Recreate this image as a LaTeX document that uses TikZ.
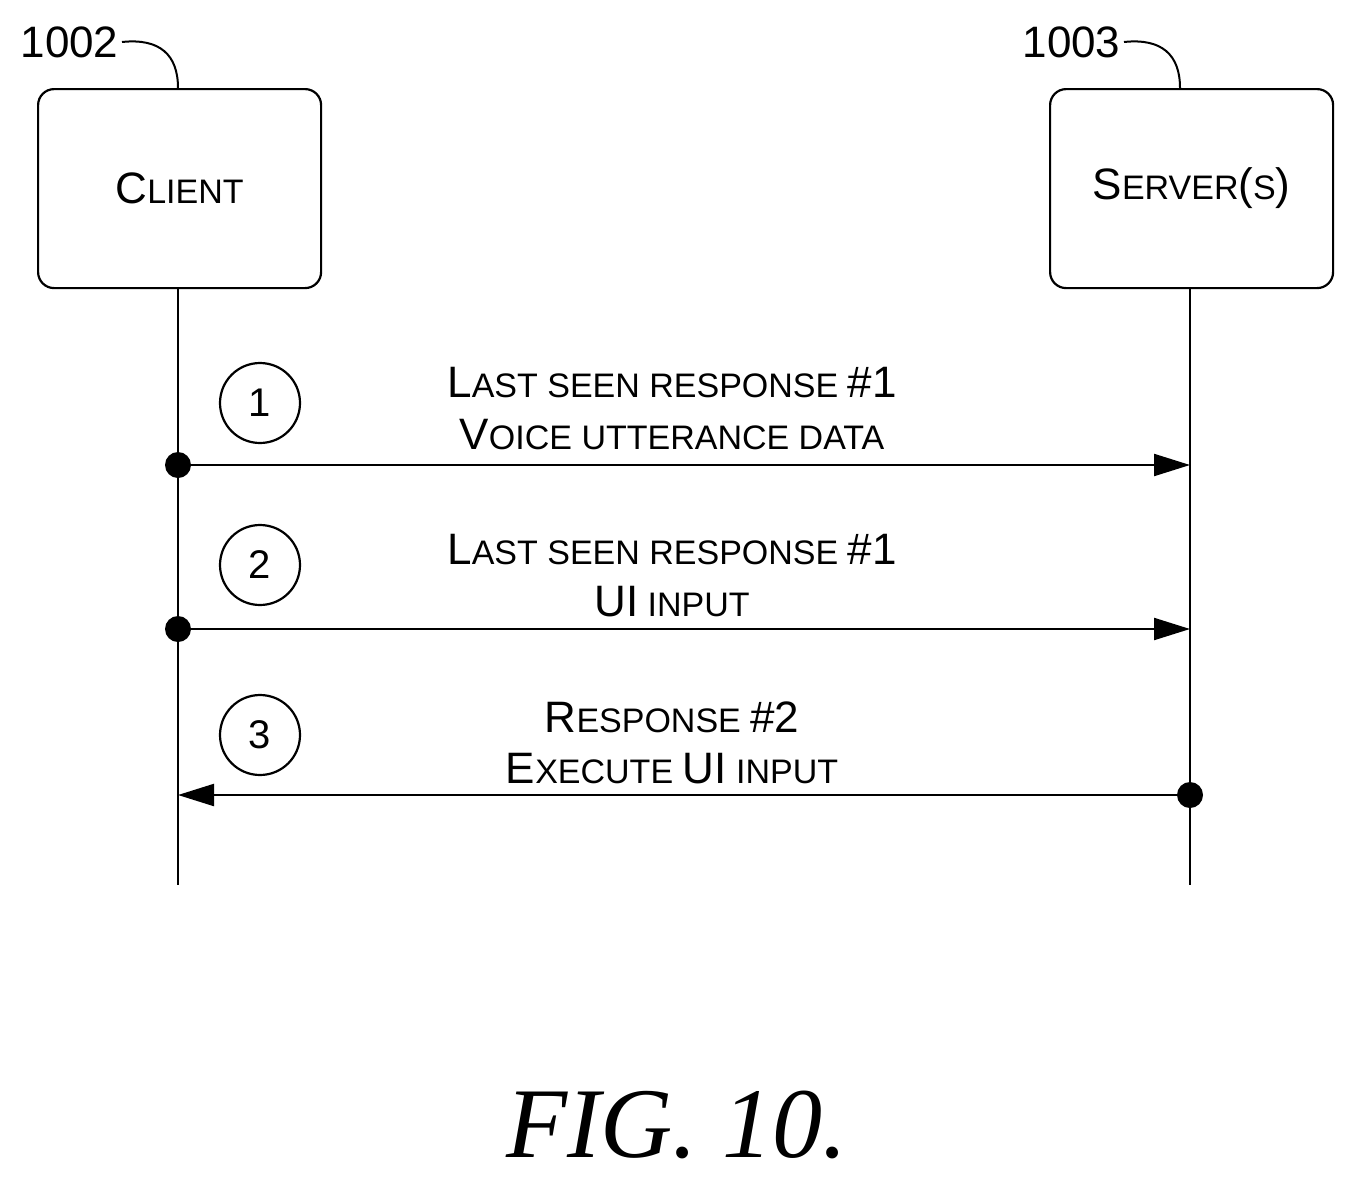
\documentclass[tikz,border=0pt]{standalone}
\usepackage{fontspec}
\setmainfont{Liberation Sans}
\newfontfamily\figfont{Liberation Serif}
\usetikzlibrary{arrows.meta}
\newcommand\Bg[1]{{\fontsize{44}{50}\selectfont #1}}
\newcommand\Sm[1]{{\fontsize{34}{50}\selectfont\MakeUppercase{#1}}}
\begin{document}
\begin{tikzpicture}[x=1pt,y=-1pt,
  box/.style={draw,line width=2.2pt,rounded corners=16pt,minimum width=283pt,minimum height=199pt,anchor=north west},
  life/.style={line width=2.2pt},
  msg/.style={line width=2.2pt,-{Triangle[length=36pt,width=22pt]}},
  num/.style={draw,circle,line width=2.2pt,minimum size=80pt,inner sep=0pt,font=\fontsize{40}{44}\selectfont},
  dot/.style={fill,circle,minimum size=26pt,inner sep=0pt},
  lbl/.style={align=center,inner sep=0pt}]
\useasboundingbox (0,0) rectangle (1354,1183);
\node[box] (client) at (37,88) {};
\node[box] (server) at (1049,88) {};
\node at (client.center) {\Bg{C}\Sm{lient}};
\node at (server.center) {\Bg{S}\Sm{erver}\Bg{(}\Sm{s}\Bg{)}};
\node[font=\fontsize{44}{48}\selectfont,anchor=east] (l1) at (122,42) {1002};
\node[font=\fontsize{44}{48}\selectfont,anchor=east] (l2) at (1124,42) {1003};
\draw[line width=2pt] (l1.east) .. controls (160,38) and (178,55) .. (178,88);
\draw[line width=2pt] (l2.east) .. controls (1162,38) and (1180,55) .. (1180,88);
\coordinate (ct) at (178,287); \coordinate (cb) at (178,885);
\coordinate (st) at (1190,287); \coordinate (sb) at (1190,885);
\draw[life] (ct) -- (cb);
\draw[life] (st) -- (sb);
\node[num] (n1) at (260,403) {1};
\node[num] (n2) at (260,565) {2};
\node[num] (n3) at (260,735) {3};
\node[dot] (d1) at (178,465) {};
\node[dot] (d2) at (178,629) {};
\node[dot] (d3) at (1190,795) {};
\coordinate (e1) at (1190,465);
\coordinate (e2) at (1190,629);
\coordinate (e3) at (178,795);
\draw[msg] (d1.center) -- (e1);
\draw[msg] (d2.center) -- (e2);
\draw[msg] (d3.center) -- (e3);
\node[lbl] (t1a) at (672,383) {\Bg{L}\Sm{ast seen response }\Bg{\#1}};
\node[lbl] (t1b) at (672,435) {\Bg{V}\Sm{oice utterance data}};
\node[lbl] (t2a) at (672,550) {\Bg{L}\Sm{ast seen response }\Bg{\#1}};
\node[lbl] (t2b) at (672,602) {\Bg{UI}\Sm{ input}};
\node[lbl] (t3a) at (672,717) {\Bg{R}\Sm{esponse }\Bg{\#2}};
\node[lbl] (t3b) at (672,769) {\Bg{E}\Sm{xecute }\Bg{UI}\Sm{ input}};
\node (fig) at (677,1125) {\figfont\itshape\fontsize{100}{110}\selectfont FIG. 10.};
\end{tikzpicture}
\end{document}
